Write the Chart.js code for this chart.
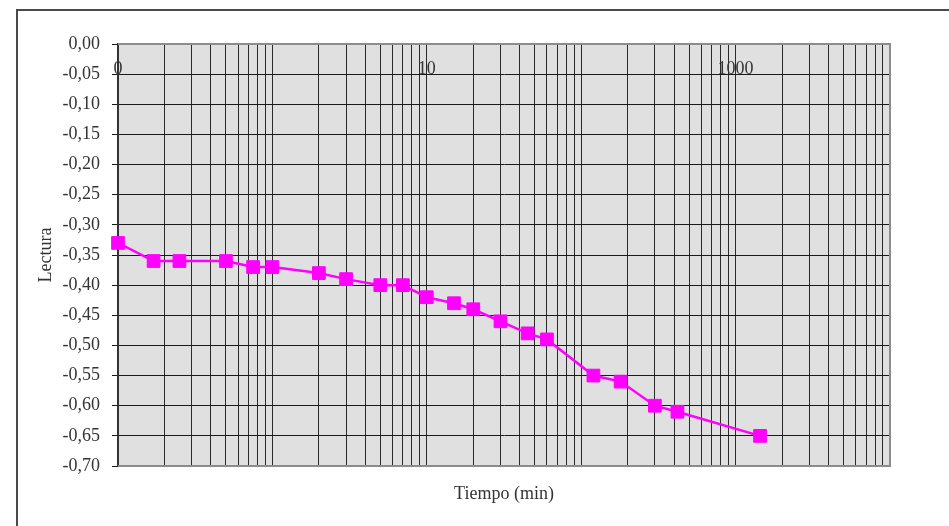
<!DOCTYPE html>
<html>
<head>
<meta charset="utf-8">
<script src="https://cdn.jsdelivr.net/npm/chart.js@4.4.1/dist/chart.umd.min.js"></script>
<style>
  body { margin: 0; background: #fff; overflow: hidden; }
  #wrap { position: relative; width: 949px; height: 526px; }
  #frame { position: absolute; left: 16px; top: 9px; width: 1000px; height: 1000px;
           border-left: 2px solid #4a4a4a; border-top: 2px solid #4a4a4a; }
  canvas { position: absolute; left: 0; top: 0; }
</style>
</head>
<body>
<div id="wrap">
  <div id="frame"></div>
  <canvas id="myChart" width="949" height="526"></canvas>
</div>
<script>
// time in minutes and dial readings
const tiempo = [0.1, 0.17, 0.25, 0.5, 0.75, 1, 2, 3, 5, 7, 10, 15, 20, 30, 45, 60, 120, 180, 300, 420, 1440];
const lectura = [-0.33, -0.36, -0.36, -0.36, -0.37, -0.37, -0.38, -0.39, -0.40, -0.40, -0.42, -0.43, -0.44, -0.46, -0.48, -0.49, -0.55, -0.56, -0.60, -0.61, -0.65];

// log axis: one gridline per 1..9 of each decade, only some labelled
const decades = [0.1, 1, 10, 100, 1000];
const xLabelAt = [0.1, 10, 1000];
const xLabelText = ["0", "10", "1000"];

let xTickValues = [];
for (const d of decades) {
  for (let k = 1; k <= 9; k++) {
    xTickValues.push(k * d);
  }
}
xTickValues.push(10000);

const points = tiempo.map((t, i) => ({ x: t, y: lectura[i] }));

Chart.defaults.font.family = "'Liberation Serif', 'DejaVu Serif', serif";
Chart.defaults.font.size = 18;
Chart.defaults.color = "#333";

// grey plot background + frame on top, right and bottom
const plotFrame = {
  id: "plotFrame",
  beforeDraw(chart) {
    const a = chart.chartArea;
    const ctx = chart.ctx;
    ctx.save();
    ctx.fillStyle = "#e0e0e0";
    ctx.fillRect(a.left, a.top, a.right - a.left, a.bottom - a.top);
    ctx.restore();
  },
  beforeDatasetsDraw(chart) {
    const a = chart.chartArea;
    const ctx = chart.ctx;
    ctx.save();
    ctx.strokeStyle = "#8c8c8c";
    ctx.lineWidth = 2;
    ctx.beginPath();
    ctx.moveTo(a.left, a.top);
    ctx.lineTo(a.right, a.top);
    ctx.lineTo(a.right, a.bottom);
    ctx.lineTo(a.left, a.bottom);
    ctx.stroke();
    ctx.restore();
  }
};

const myChart = new Chart("myChart", {
  type: "line",
  data: {
    datasets: [
      {
        label: "Lectura",
        data: points,
        xAxisID: "x",
        yAxisID: "y",
        borderColor: "#ff00ff",
        backgroundColor: "#ff00ff",
        borderWidth: 2.5,
        pointStyle: "rect",
        pointRadius: 9,
        pointBorderWidth: 1,
        pointBackgroundColor: "#ff00ff",
        pointBorderColor: "#ff00ff",
        tension: 0,
        clip: false
      }
    ]
  },
  options: {
    responsive: false,
    animation: false,
    layout: { padding: { left: 35, top: 44, right: 59, bottom: 0 } },
    plugins: {
      legend: { display: false },
      tooltip: { enabled: false }
    },
    scales: {
      x: {
        type: "logarithmic",
        position: { y: 0 },
        min: 0.1,
        max: 10000,
        afterBuildTicks: (axis) => {
          axis.ticks = xTickValues.map((v) => ({ value: v }));
        },
        grid: { color: "#2a2a2a", lineWidth: 1, drawTicks: false },
        border: { display: false },
        ticks: {
          autoSkip: false,
          maxRotation: 0,
          padding: 14,
          callback: function (value) {
            const i = xLabelAt.findIndex((v) => Math.abs(v - value) < 1e-9);
            return i >= 0 ? xLabelText[i] : "";
          }
        }
      },
      x2: {
        type: "linear",
        position: "bottom",
        grid: { display: false, drawTicks: false },
        border: { display: false },
        ticks: { display: false },
        title: {
          display: true,
          text: "Tiempo (min)",
          padding: { top: 0, bottom: 21 }
        },
        afterFit: (axis) => {
          axis.height = 60;
        }
      },
      y: {
        type: "linear",
        position: "left",
        min: -0.7,
        max: 0,
        grid: { color: "#1a1a1a", lineWidth: 1, tickLength: 6 },
        border: { display: true, color: "#333", width: 2 },
        ticks: {
          stepSize: 0.05,
          padding: 12,
          callback: function (value) {
            return value.toFixed(2).replace(".", ",");
          }
        },
        title: {
          display: true,
          text: "Lectura",
          padding: 0
        },
        afterFit: (axis) => {
          axis.width = 83;
        }
      }
    }
  },
  plugins: [plotFrame]
});
</script>
</body>
</html>
